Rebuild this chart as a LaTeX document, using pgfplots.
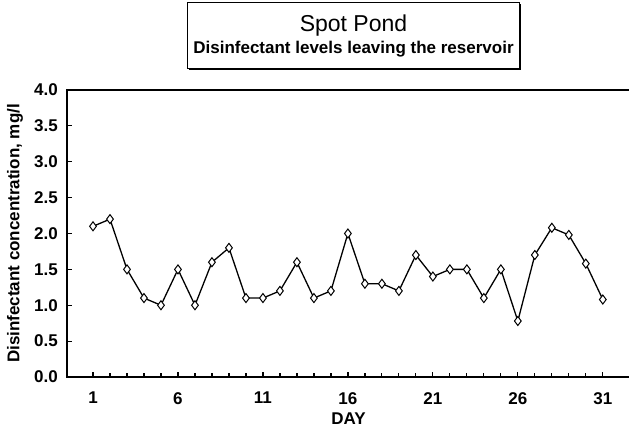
\documentclass[border=0pt]{standalone}
\usepackage{pgfplots}
\pgfplotsset{compat=1.18}
\usepackage{fontspec}
\setmainfont{Liberation Sans}
\usetikzlibrary{shadows}
\begin{document}
\begin{tikzpicture}
\useasboundingbox (-67pt,-57pt) rectangle (562pt,377pt);
\begin{axis}[
  at={(0pt,0pt)}, anchor=south west,
  scale only axis, width=563pt, height=287pt,
  xmin=-0.53, xmax=32.6, ymin=0, ymax=4,
  xtick={1,6,11,16,21,26,31},
  minor xtick={1,...,31},
  ytick={0,0.5,...,4},
  yticklabel style={/pgf/number format/fixed,/pgf/number format/fixed zerofill,/pgf/number format/precision=1},
  /pgf/number format/assume math mode=true,
  tick pos=left, tick align=inside,
  major tick length=5pt, minor tick length=4pt,
  every tick/.style={black, line width=1.2pt},
  axis line style={line width=1.5pt},
  ticklabel style={font=\fontsize{17}{19}\selectfont\bfseries},
  xticklabel style={anchor=north, inner sep=0pt, yshift=-15pt},
  yticklabel style={anchor=east, inner sep=0pt, xshift=-9pt},
  xlabel={\fontsize{17}{19}\selectfont\bfseries DAY},
  xlabel style={at={(axis description cs:0.5,0)}, anchor=north, inner sep=0pt, yshift=-36pt},
  ylabel={\fontsize{17}{19}\selectfont\bfseries Disinfectant concentration, mg/l},
  ylabel style={at={(axis description cs:-0.0924,0.5)}, anchor=center, inner sep=0pt},
]
\addplot[black, line width=1.3pt, mark=diamond*, mark size=4.5pt,
  mark options={fill=white, line width=1pt}] coordinates {
(1,2.1) (2,2.2) (3,1.5) (4,1.1) (5,1.0) (6,1.5) (7,1.0) (8,1.6) (9,1.8) (10,1.1)
(11,1.1) (12,1.2) (13,1.6) (14,1.1) (15,1.2) (16,2.0) (17,1.3) (18,1.3) (19,1.2) (20,1.7)
(21,1.4) (22,1.5) (23,1.5) (24,1.1) (25,1.5) (26,0.78) (27,1.7) (28,2.08) (29,1.98) (30,1.58)
(31,1.08)
};
\end{axis}
\node[draw, line width=1pt, fill=white, drop shadow={shadow xshift=1.5pt, shadow yshift=-1.5pt, fill=black, opacity=1},
  minimum width=332pt, minimum height=66pt, align=center, inner sep=2pt]
  at (286.5pt,341pt) {{\fontsize{23}{27}\selectfont Spot Pond}\\[3pt]{\fontsize{17}{20}\selectfont\bfseries Disinfectant levels leaving the reservoir}};
\end{tikzpicture}
\end{document}
